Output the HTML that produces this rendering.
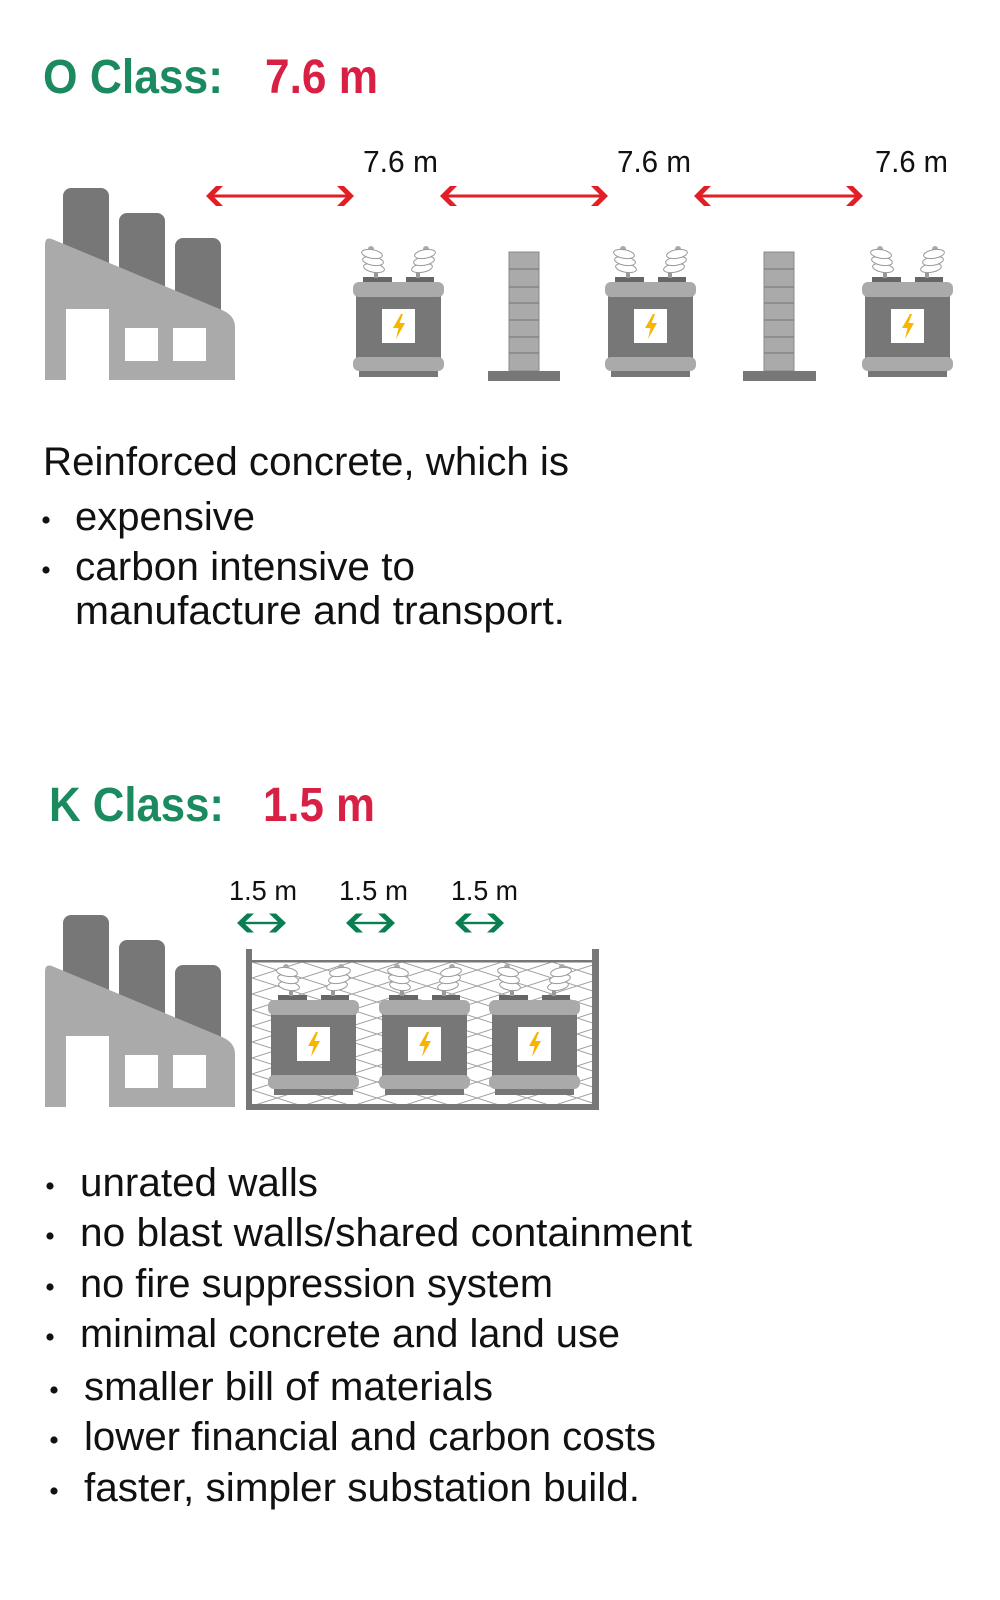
<!DOCTYPE html>
<html>
<head>
<meta charset="utf-8">
<style>
html,body{margin:0;padding:0;background:#fff;}
svg{display:block;}
text{font-family:"Liberation Sans",Arial,sans-serif;}
</style>
</head>
<body>
<svg width="1000" height="1600" viewBox="0 0 1000 1600" xmlns="http://www.w3.org/2000/svg">
<defs>
  <g id="tx">
    <rect x="10" y="-5" width="29" height="5" fill="#666"/>
    <rect x="53" y="-5" width="28" height="5" fill="#666"/>
    <rect x="21" y="-13" width="4" height="9" fill="#999"/>
    <rect x="63" y="-13" width="4" height="9" fill="#999"/>
    <circle cx="18" cy="-33" r="3" fill="#aaa"/>
    <circle cx="73" cy="-33" r="3" fill="#aaa"/>
    <g fill="#fff" stroke="#999" stroke-width="1">
      <ellipse cx="21" cy="-14" rx="10.5" ry="4.3" transform="rotate(10 21 -14)"/>
      <ellipse cx="20" cy="-21" rx="10.5" ry="4.3" transform="rotate(10 20 -21)"/>
      <ellipse cx="19" cy="-28" rx="10.5" ry="4.3" transform="rotate(10 19 -28)"/>
      <ellipse cx="69" cy="-14" rx="10.5" ry="4.3" transform="rotate(-10 69 -14)"/>
      <ellipse cx="71" cy="-21" rx="10.5" ry="4.3" transform="rotate(-10 71 -21)"/>
      <ellipse cx="72" cy="-28" rx="10.5" ry="4.3" transform="rotate(-10 72 -28)"/>
    </g>
    <rect x="3" y="13" width="85" height="64" fill="#777"/>
    <rect x="0" y="0" width="91" height="15" rx="6" fill="#aaa"/>
    <rect x="0" y="75" width="91" height="14" rx="6" fill="#aaa"/>
    <rect x="6" y="89" width="79" height="6" fill="#777"/>
    <rect x="29" y="27" width="33" height="34" fill="#fff"/>
    <path d="M48 32 L40 46 L45.5 46 L43 57 L52 41 L46.5 41 L50 32 Z" fill="#f7b500"/>
  </g>
  <g id="factory">
    <rect x="63" y="188" width="46" height="150" rx="8" fill="#777"/>
    <rect x="119" y="213" width="46" height="130" rx="8" fill="#777"/>
    <rect x="175" y="238" width="46" height="110" rx="8" fill="#777"/>
    <path d="M45 380 V245 Q45 236 53 239.5 L222 310 Q235 315.5 235 327 V380 Z" fill="#aaa"/>
    <rect x="66" y="309" width="43" height="71" fill="#fff"/>
    <rect x="125" y="328" width="33" height="33" fill="#fff"/>
    <rect x="173" y="328" width="33" height="33" fill="#fff"/>
  </g>
  <g id="wall">
    <rect x="0" y="0" width="30" height="119" fill="#aaa" stroke="#8a8a8a" stroke-width="1"/>
    <g stroke="#7d7d7d" stroke-width="1.2">
      <line x1="0" y1="17" x2="30" y2="17"/>
      <line x1="0" y1="35" x2="30" y2="35"/>
      <line x1="0" y1="51" x2="30" y2="51"/>
      <line x1="0" y1="68" x2="30" y2="68"/>
      <line x1="0" y1="85" x2="30" y2="85"/>
      <line x1="0" y1="101" x2="30" y2="101"/>
    </g>
  </g>
  <pattern id="mesh" x="252" y="962" width="50" height="32" patternUnits="userSpaceOnUse">
    <g stroke="#a0a0a0" stroke-width="1" fill="none">
      <line x1="0" y1="0" x2="50" y2="16"/>
      <line x1="0" y1="16" x2="50" y2="32"/>
      <line x1="-50" y1="16" x2="0" y2="32"/>
      <line x1="50" y1="-16" x2="100" y2="0"/>
      <line x1="0" y1="16" x2="50" y2="0"/>
      <line x1="0" y1="32" x2="50" y2="16"/>
      <line x1="-50" y1="16" x2="0" y2="0"/>
      <line x1="50" y1="32" x2="100" y2="16"/>
    </g>
  </pattern>
</defs>

<!-- O Class heading -->
<text x="43" y="93" font-size="48" font-weight="bold" fill="#1b8a5e" textLength="180" lengthAdjust="spacingAndGlyphs">O Class:</text>
<text x="265" y="93" font-size="48" font-weight="bold" fill="#d81f44" textLength="113" lengthAdjust="spacingAndGlyphs">7.6 m</text>

<!-- distance labels -->
<text x="363" y="172" font-size="31" fill="#111" textLength="75" lengthAdjust="spacingAndGlyphs">7.6 m</text>
<text x="617" y="172" font-size="31" fill="#111" textLength="74" lengthAdjust="spacingAndGlyphs">7.6 m</text>
<text x="875" y="172" font-size="31" fill="#111" textLength="73" lengthAdjust="spacingAndGlyphs">7.6 m</text>

<!-- red arrows -->
<g fill="#e21f26">
  <rect x="210" y="194.5" width="140" height="3"/>
  <polygon points="206,196 216,186 223,186 213,196 223,206 216,206"/>
  <polygon points="354,196 344,186 337,186 347,196 337,206 344,206"/>

  <rect x="444" y="194.5" width="160" height="3"/>
  <polygon points="440,196 450,186 457,186 447,196 457,206 450,206"/>
  <polygon points="608,196 598,186 591,186 601,196 591,206 598,206"/>

  <rect x="698" y="194.5" width="161" height="3"/>
  <polygon points="694,196 704,186 711,186 701,196 711,206 704,206"/>
  <polygon points="863,196 853,186 846,186 856,196 846,206 853,206"/>
</g>

<!-- O class drawing -->
<use href="#factory" x="0" y="0"/>
<use href="#tx" x="353" y="282"/>
<use href="#tx" x="605" y="282"/>
<use href="#tx" x="862" y="282"/>
<use href="#wall" x="509" y="252"/>
<rect x="488" y="371" width="72" height="10" fill="#777"/>
<use href="#wall" x="764" y="252"/>
<rect x="743" y="371" width="73" height="10" fill="#777"/>

<!-- O class text -->
<g font-size="40" fill="#111">
  <text x="43" y="475" textLength="526" lengthAdjust="spacingAndGlyphs">Reinforced concrete, which is</text>
  <text x="75" y="530" textLength="180" lengthAdjust="spacingAndGlyphs">expensive</text>
  <text x="75" y="580" textLength="340" lengthAdjust="spacingAndGlyphs">carbon intensive to</text>
  <text x="75" y="624" textLength="490" lengthAdjust="spacingAndGlyphs">manufacture and transport.</text>
</g>
<g fill="#111">
  <circle cx="46" cy="520" r="3.6"/>
  <circle cx="46" cy="570" r="3.6"/>
</g>

<!-- K Class heading -->
<text x="49" y="821" font-size="48" font-weight="bold" fill="#1b8a5e" textLength="175" lengthAdjust="spacingAndGlyphs">K Class:</text>
<text x="263" y="821" font-size="48" font-weight="bold" fill="#d81f44" textLength="112" lengthAdjust="spacingAndGlyphs">1.5 m</text>

<text x="229" y="900" font-size="28" fill="#111" textLength="68" lengthAdjust="spacingAndGlyphs">1.5 m</text>
<text x="339" y="900" font-size="28" fill="#111" textLength="69" lengthAdjust="spacingAndGlyphs">1.5 m</text>
<text x="451" y="900" font-size="28" fill="#111" textLength="67" lengthAdjust="spacingAndGlyphs">1.5 m</text>

<!-- green arrows -->
<g fill="#087f50">
  <rect x="241" y="921.8" width="41" height="2.4"/>
  <polygon points="237,923 247,913.5 254,913.5 244,923 254,932.5 247,932.5"/>
  <polygon points="286,923 276,913.5 269,913.5 279,923 269,932.5 276,932.5"/>

  <rect x="350" y="921.8" width="41" height="2.4"/>
  <polygon points="346,923 356,913.5 363,913.5 353,923 363,932.5 356,932.5"/>
  <polygon points="395,923 385,913.5 378,913.5 388,923 378,932.5 385,932.5"/>

  <rect x="459" y="921.8" width="41" height="2.4"/>
  <polygon points="455,923 465,913.5 472,913.5 462,923 472,932.5 465,932.5"/>
  <polygon points="504,923 494,913.5 487,913.5 497,923 487,932.5 494,932.5"/>
</g>

<!-- K class drawing -->
<use href="#factory" x="0" y="727"/>
<rect x="252" y="962" width="340" height="142" fill="url(#mesh)"/>
<g fill="#777">
  <rect x="246" y="949" width="6" height="161"/>
  <rect x="592" y="949" width="7" height="161"/>
  <rect x="246" y="1104" width="353" height="6"/>
  <rect x="246" y="960" width="353" height="2.5"/>
</g>
<use href="#tx" x="268" y="1000"/>
<use href="#tx" x="379" y="1000"/>
<use href="#tx" x="489" y="1000"/>

<!-- K class list -->
<g font-size="40" fill="#111">
  <text x="80" y="1196" textLength="238" lengthAdjust="spacingAndGlyphs">unrated walls</text>
  <text x="80" y="1246" textLength="612" lengthAdjust="spacingAndGlyphs">no blast walls/shared containment</text>
  <text x="80" y="1297" textLength="473" lengthAdjust="spacingAndGlyphs">no fire suppression system</text>
  <text x="80" y="1347" textLength="540" lengthAdjust="spacingAndGlyphs">minimal concrete and land use</text>
  <text x="84" y="1400" textLength="409" lengthAdjust="spacingAndGlyphs">smaller bill of materials</text>
  <text x="84" y="1450" textLength="572" lengthAdjust="spacingAndGlyphs">lower financial and carbon costs</text>
  <text x="84" y="1501" textLength="556" lengthAdjust="spacingAndGlyphs">faster, simpler substation build.</text>
</g>
<g fill="#111">
  <circle cx="50" cy="1186" r="3.6"/>
  <circle cx="50" cy="1236" r="3.6"/>
  <circle cx="50" cy="1287" r="3.6"/>
  <circle cx="50" cy="1337" r="3.6"/>
  <circle cx="54" cy="1390" r="3.6"/>
  <circle cx="54" cy="1440" r="3.6"/>
  <circle cx="54" cy="1491" r="3.6"/>
</g>
</svg>
</body>
</html>
